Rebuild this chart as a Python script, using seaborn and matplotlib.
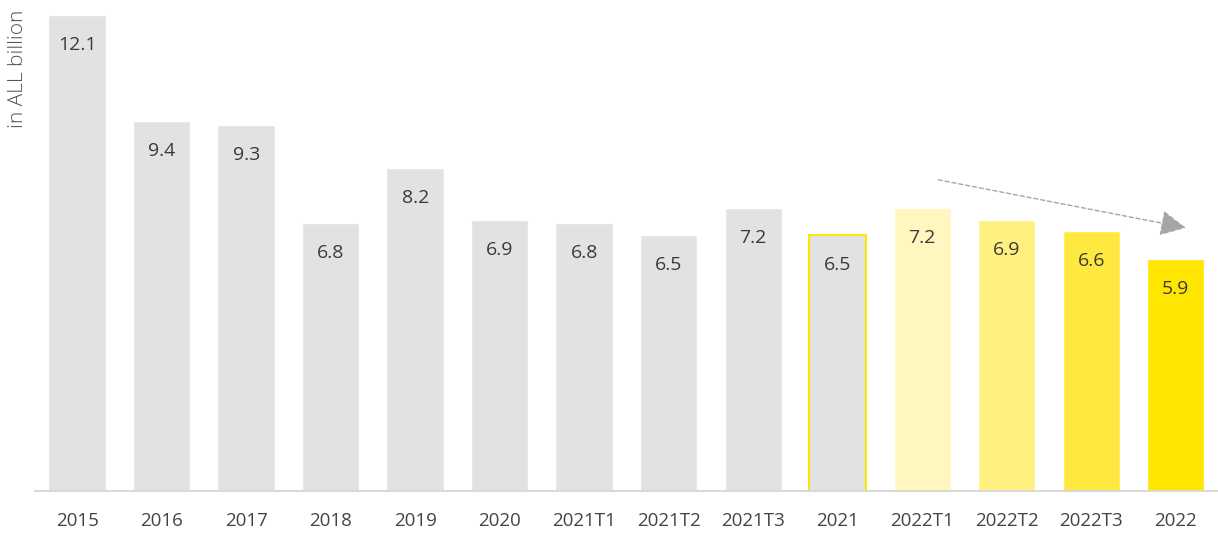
import pandas as pd
import seaborn as sns
import matplotlib.pyplot as plt

# Chart data
periods = ["2015", "2016", "2017", "2018", "2019", "2020", "2021T1", "2021T2",
           "2021T3", "2021", "2022T1", "2022T2", "2022T3", "2022"]
values = [12.1, 9.4, 9.3, 6.8, 8.2, 6.9, 6.8, 6.5, 7.2, 6.5, 7.2, 6.9, 6.6, 5.9]
labels = ["12.1", "9.4", "9.3", "6.8", "8.2", "6.9", "6.8", "6.5", "7.2",
          "6.5", "7.2", "6.9", "6.6", "5.9"]

grey = "#E1E2E4"
bar_colors = [grey] * 10 + ["#FFF7BF", "#FFF07F", "#FFE93F", "#FFE600"]

df = pd.DataFrame({"period": periods, "value": values})

sns.set_style("white")
plt.rcParams['font.family'] = ['Open Sans', 'DejaVu Sans']

fig = plt.figure(figsize=(12.18, 5.33), dpi=100)
ax = fig.add_axes([0.0287, 0.0788, 0.9713, 0.8931])

sns.barplot(data=df, x="period", y="value", hue="period", palette=bar_colors,
            legend=False, width=0.68, saturation=1, ax=ax)

# yellow outline on the 2021 bar
ax.patches[9].set_edgecolor("#FFE600")
ax.patches[9].set_linewidth(1.5)

for i, (v, lab) in enumerate(zip(values, labels)):
    ax.annotate(lab, (i, v), xytext=(0, -30), textcoords="offset pixels",
                ha="center", va="center", fontsize=14, color="#3a3a3a")

# trend arrow
ax.annotate("", xy=(13.12, 6.69), xytext=(10.19, 7.91),
            arrowprops=dict(arrowstyle="-|>,head_length=1.0,head_width=0.5",
                            mutation_scale=16, shrinkA=0, shrinkB=0,
                            color="#a6a6a6", lw=1, linestyle=(0, (3, 2))))

ax.set_xlim(-0.5, 13.5)
ax.set_ylim(0, 12.1)
ax.set_yticks([])
ax.set_xlabel("")
ax.set_ylabel("")
for s in ["top", "right", "left"]:
    ax.spines[s].set_visible(False)
ax.spines["bottom"].set_color("#d9d9d9")
ax.spines["bottom"].set_linewidth(1.5)
ax.tick_params(axis="x", length=0, pad=15, labelsize=13.5, labelcolor="#444444")

fig.text(18 / 1218, 1 - 10 / 533, "in ALL billion", rotation=90, ha="center",
         va="top", fontsize=15, fontweight="light", color="#555555")

plt.savefig("out.png", dpi=100)
